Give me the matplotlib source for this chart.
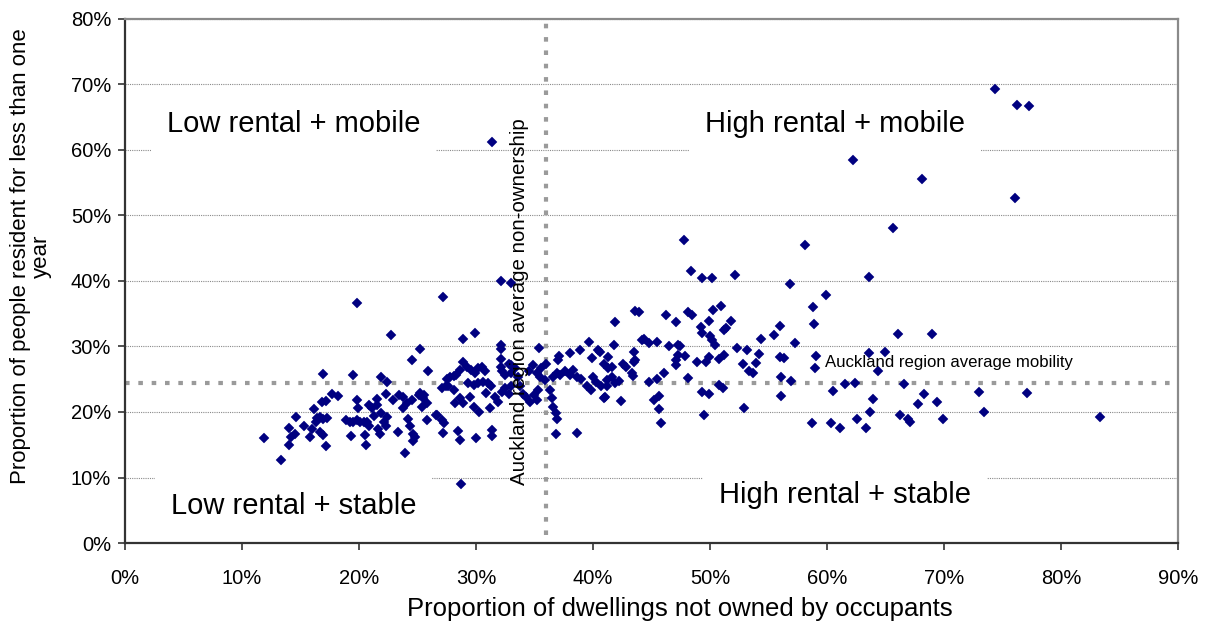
import matplotlib
matplotlib.use('Agg')
import matplotlib.pyplot as plt
from matplotlib.ticker import FuncFormatter, MultipleLocator

plt.rcParams['font.family'] = ['Liberation Sans', 'DejaVu Sans']

# proportion not owned (%), proportion resident < 1 year (%)
pts_right = [
    (74.4, 69.3), (76.2, 66.9), (77.3, 66.7), (62.2, 58.4), (68.1, 55.6), (76.1, 52.6),
    (65.6, 48.1), (58.1, 45.5), (63.6, 40.6), (56.8, 39.6), (59.9, 37.8), (58.8, 36.1),
    (58.9, 33.5), (56.0, 33.1), (57.3, 30.6), (66.1, 31.9), (69.0, 31.9), (59.1, 28.6),
    (59.0, 26.7), (63.6, 29.0), (65.0, 29.1), (64.4, 26.3), (56.1, 25.4), (56.9, 24.8),
    (56.1, 22.5), (61.5, 24.2), (62.4, 24.5), (66.6, 24.3), (60.5, 23.2), (63.9, 22.0),
    (63.7, 20.0), (68.3, 22.8), (67.8, 21.2), (69.4, 21.6), (73.0, 23.1), (77.1, 22.9),
    (73.4, 20.0), (83.3, 19.2), (58.7, 18.3), (60.3, 18.3), (61.1, 17.5), (62.6, 18.9),
    (63.3, 17.5), (66.2, 19.5), (66.9, 18.9), (67.1, 18.5), (69.9, 19.0),
]
pts_mid = [
    (47.8, 46.2), (48.4, 41.6), (49.3, 40.4), (50.2, 40.4), (52.1, 40.9),
    (41.9, 33.7), (43.6, 35.4), (43.9, 35.2), (46.2, 34.8), (47.1, 33.7), (48.1, 35.3),
    (48.5, 34.8), (50.3, 35.5), (50.9, 36.2), (49.2, 33.0), (49.3, 32.0), (49.9, 33.9),
    (50.0, 31.6), (50.2, 31.0), (50.4, 30.3), (51.2, 32.5), (51.4, 32.8), (51.8, 33.9),
    (40.6, 29.2), (41.3, 28.4), (41.8, 30.3), (43.5, 29.2), (44.2, 31.0), (44.4, 31.1),
    (44.8, 30.6), (45.5, 30.7), (46.5, 30.1), (47.3, 30.3), (47.4, 30.0), (47.9, 28.6),
    (47.1, 27.9), (47.1, 27.1), (48.9, 27.6), (49.7, 27.7), (49.9, 28.4), (50.8, 28.1),
    (51.2, 28.7), (52.3, 29.7), (53.2, 29.4), (54.2, 28.9), (54.4, 31.2), (55.5, 31.7),
    (52.8, 27.4), (53.9, 27.5), (53.3, 26.2), (53.7, 26.0), (56.0, 28.4), (56.3, 28.3),
    (52.9, 20.6), (49.5, 19.5), (49.3, 23.0), (49.9, 22.7), (50.8, 24.1), (51.1, 23.7),
    (44.8, 24.6), (45.5, 25.1), (46.1, 26.0), (45.2, 21.9), (45.6, 22.4), (45.6, 20.5),
    (45.8, 18.3), (40.9, 22.1), (42.4, 21.7), (41.2, 24.0), (42.2, 24.8), (43.3, 25.9),
    (43.4, 25.5), (42.6, 27.3), (42.8, 26.9), (43.5, 27.6), (43.6, 27.9), (40.9, 27.4),
    (41.3, 26.7), (41.6, 26.9), (41.6, 25.4), (47.3, 28.7), (48.1, 25.2),
]
pts_centre = [
    (27.2, 37.5), (32.1, 40.0), (33.0, 39.7), (28.9, 31.1), (29.9, 32.1), (32.1, 30.2),
    (32.1, 29.6), (32.1, 28.1), (35.4, 29.7), (39.7, 30.7), (38.9, 29.4), (37.1, 28.5),
    (37.0, 27.9), (38.0, 29.0), (40.4, 29.4), (39.9, 28.2), (36.0, 27.3),
    (25.8, 18.8), (27.1, 18.8), (27.3, 18.3), (26.7, 19.5), (27.2, 16.8), (28.5, 17.1),
    (28.6, 15.7), (30.0, 16.1), (31.4, 17.3), (31.4, 16.3), (28.2, 21.4), (25.2, 22.9),
    (25.5, 22.1), (27.5, 25.1), (27.8, 25.4), (28.1, 25.5), (27.6, 23.9), (27.1, 23.6),
    (27.4, 23.9), (28.3, 25.6), (28.6, 26.4), (28.9, 27.7), (29.2, 26.9), (29.6, 26.4),
    (29.9, 25.9), (30.2, 26.7), (30.5, 26.9), (30.8, 26.2), (28.1, 23.4), (28.6, 22.1),
    (28.9, 21.3), (29.5, 22.3), (29.8, 20.8), (30.3, 20.0), (30.9, 22.9), (31.2, 20.6),
    (29.3, 24.5), (29.8, 24.1), (30.2, 24.4), (30.6, 24.6), (31.0, 24.4), (31.3, 23.9),
    (31.6, 22.3), (31.9, 21.6), (32.2, 23.1), (32.5, 23.6), (32.8, 22.8), (33.0, 23.9),
    (32.1, 26.9), (32.2, 26.2), (32.5, 25.6), (32.8, 27.4), (33.0, 27.2), (33.3, 26.7),
    (33.0, 25.9), (33.6, 25.4), (33.8, 23.9), (34.0, 22.8), (34.3, 22.3), (34.6, 21.6),
    (35.0, 22.6), (35.3, 23.4), (35.2, 21.8), (34.5, 26.2), (34.9, 27.2), (35.2, 25.9),
    (35.5, 25.4), (35.9, 24.9), (35.6, 26.7), (36.3, 23.4), (36.5, 22.1), (36.6, 20.8),
    (36.8, 19.8), (36.9, 19.0), (36.8, 16.7), (38.6, 16.8), (36.6, 25.4), (36.9, 25.9),
    (37.2, 25.6), (37.6, 26.2), (38.0, 25.6), (38.3, 26.4), (38.6, 25.4), (39.0, 25.1),
    (39.5, 23.9), (39.8, 23.4), (40.0, 25.4), (40.3, 24.6), (40.7, 23.9), (41.0, 22.3),
    (41.2, 24.9), (41.9, 24.4), (28.7, 9.0), (31.4, 61.2),
]
pts_left = [
    (11.9, 16.1), (13.3, 12.7), (14.0, 15.0), (14.0, 17.6), (14.2, 16.2), (14.5, 16.7),
    (14.6, 19.3), (15.3, 17.9), (15.8, 16.2), (16.0, 17.4), (16.2, 20.5), (16.8, 21.6),
    (17.2, 21.7), (17.7, 22.7), (18.2, 22.5), (16.9, 25.8), (16.3, 18.5), (16.4, 19.1),
    (16.7, 19.2), (16.9, 19.0), (17.3, 19.1), (16.7, 17.0), (16.9, 16.5), (17.2, 14.8),
    (19.5, 25.7), (19.8, 36.6), (19.8, 21.8), (19.9, 20.6), (18.9, 18.8), (19.2, 18.5),
    (19.5, 18.5), (19.8, 18.8), (20.1, 18.5), (20.4, 18.5), (20.7, 18.4), (19.3, 16.3),
    (20.6, 14.9), (20.5, 16.5), (20.9, 21.1), (21.1, 20.6), (21.5, 22.0), (21.5, 21.1),
    (21.3, 19.4), (20.9, 17.8), (21.6, 17.4), (21.8, 16.6), (21.9, 25.4), (22.4, 24.6),
    (22.3, 22.7), (22.7, 31.8), (22.9, 21.8), (23.4, 22.6), (23.8, 22.3), (21.9, 19.8),
    (22.4, 19.3), (22.1, 18.5), (22.3, 17.8), (23.3, 17.0), (23.9, 13.8), (24.2, 19.0),
    (24.4, 17.8), (24.6, 16.7), (24.8, 16.2), (24.6, 15.5), (24.5, 27.9), (25.2, 29.6),
    (25.9, 26.3), (25.1, 22.6), (25.6, 22.6), (25.8, 21.3), (25.4, 20.8), (24.5, 21.8),
    (24.1, 21.3), (23.8, 20.6), (26.6, 19.5),
]

avg_non_owned = 36.0
avg_mobility = 24.4

allpts = pts_left + pts_centre + pts_mid + pts_right
xs = [p[0] for p in allpts]
ys = [p[1] for p in allpts]

fig = plt.figure(figsize=(12.06, 6.24), dpi=100)
ax = fig.add_axes([0.1036, 0.1298, 0.8732, 0.8398])

ax.set_xlim(0, 90)
ax.set_ylim(0, 80)
ax.xaxis.set_major_locator(MultipleLocator(10))
ax.yaxis.set_major_locator(MultipleLocator(10))
pct = FuncFormatter(lambda v, p: f'{v:.0f}%')
ax.xaxis.set_major_formatter(pct)
ax.yaxis.set_major_formatter(pct)
ax.tick_params(direction='out', length=5, width=1.2, color='#333333', labelsize=14.5)
ax.tick_params(axis='x', pad=14)
ax.tick_params(axis='y', pad=5)

ax.set_axisbelow(True)
ax.yaxis.grid(True, color='#8a8a8a', linestyle=(0, (1, 1)), linewidth=0.8, zorder=0)

for s in ['left', 'bottom']:
    ax.spines[s].set_color('#333333')
    ax.spines[s].set_linewidth(1.6)
for s in ['top', 'right']:
    ax.spines[s].set_color('#8a8a8a')
    ax.spines[s].set_linewidth(1.6)

ax.axvline(avg_non_owned, ymin=0.015, color='#9a9a9a', linewidth=3, linestyle=(0, (1.1, 2.1)), zorder=1)
ax.axhline(avg_mobility, color='#9a9a9a', linewidth=3, linestyle=(0, (1.1, 2.1)), zorder=1)

box = dict(boxstyle='square,pad=0.55', fc='white', ec='none')
ax.text(14.4, 64.0, 'Low rental + mobile', fontsize=21, ha='center', va='center', bbox=box, zorder=1.5)
ax.text(60.7, 64.0, 'High rental + mobile', fontsize=21, ha='center', va='center', bbox=box, zorder=1.5)
ax.text(14.4, 5.6, 'Low rental + stable', fontsize=21, ha='center', va='center', bbox=box, zorder=1.5)
ax.text(61.5, 7.4, 'High rental + stable', fontsize=21, ha='center', va='center', bbox=box, zorder=1.5)

ax.plot(xs, ys, 'D', color='#000080', markersize=4.7, markeredgewidth=0.3,
        markeredgecolor='#000080', zorder=3)

ax.text(33.7, 36.9, 'Auckland region average non-ownership', rotation=90, fontsize=14.8,
        ha='center', va='center', zorder=4)
ax.text(59.8, 27.5, 'Auckland region average mobility', fontsize=12.1, ha='left', va='center', zorder=4)

ax.set_xlabel('Proportion of dwellings not owned by occupants', fontsize=18.5)
ax.xaxis.set_label_coords(0.527, -0.103)
ax.set_ylabel('Proportion of people resident for less than one\nyear', fontsize=16,
              multialignment='center', linespacing=1.0)
ax.yaxis.set_label_coords(-0.069, 0.548)

fig.savefig('out.png', dpi=100)
